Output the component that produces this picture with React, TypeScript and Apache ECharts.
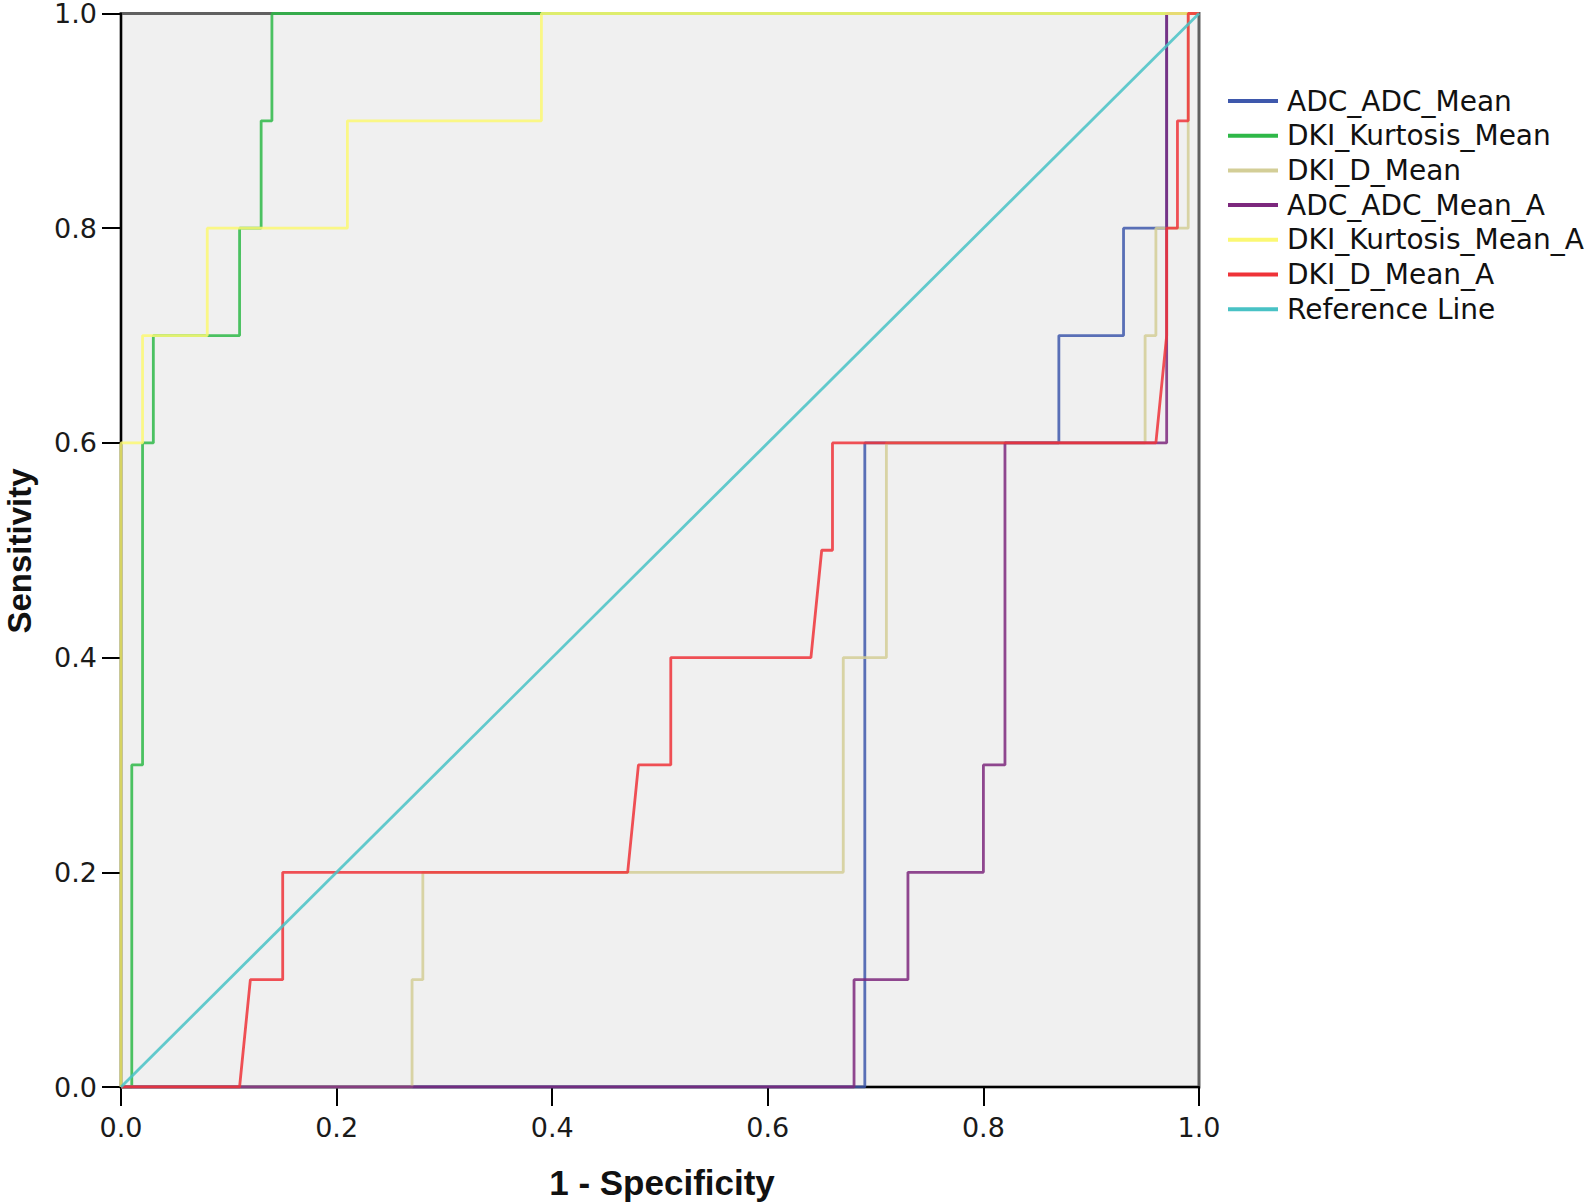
import React, { useEffect, useRef } from "react";
import * as echarts from "echarts";

const seriesNames = [
  "ADC_ADC_Mean",
  "DKI_Kurtosis_Mean",
  "DKI_D_Mean",
  "ADC_ADC_Mean_A",
  "DKI_Kurtosis_Mean_A",
  "DKI_D_Mean_A",
  "Reference Line",
];

const adcMean = [[0, 0], [0.69, 0], [0.69, 0.6], [0.87, 0.6], [0.87, 0.7], [0.93, 0.7], [0.93, 0.8], [0.97, 0.8], [0.97, 1], [1, 1]];
const kurtosisMean = [[0, 0], [0.01, 0], [0.01, 0.3], [0.02, 0.3], [0.02, 0.6], [0.03, 0.6], [0.03, 0.7], [0.11, 0.7], [0.11, 0.8], [0.13, 0.8], [0.13, 0.9], [0.14, 0.9], [0.14, 1], [1, 1]];
const dMean = [[0, 0], [0.27, 0], [0.27, 0.1], [0.28, 0.1], [0.28, 0.2], [0.67, 0.2], [0.67, 0.4], [0.71, 0.4], [0.71, 0.6], [0.95, 0.6], [0.95, 0.7], [0.96, 0.7], [0.96, 0.8], [0.99, 0.8], [0.99, 1], [1, 1]];
const adcMeanA = [[0, 0], [0.68, 0], [0.68, 0.1], [0.73, 0.1], [0.73, 0.2], [0.8, 0.2], [0.8, 0.3], [0.82, 0.3], [0.82, 0.6], [0.97, 0.6], [0.97, 1], [1, 1]];
const kurtosisMeanA = [[0, 0], [0, 0.6], [0.02, 0.6], [0.02, 0.7], [0.08, 0.7], [0.08, 0.8], [0.21, 0.8], [0.21, 0.9], [0.39, 0.9], [0.39, 1], [1, 1]];
const dMeanA = [[0, 0], [0.11, 0], [0.12, 0.1], [0.15, 0.1], [0.15, 0.2], [0.47, 0.2], [0.48, 0.3], [0.51, 0.3], [0.51, 0.4], [0.64, 0.4], [0.65, 0.5], [0.66, 0.5], [0.66, 0.6], [0.96, 0.6], [0.97, 0.7], [0.97, 0.8], [0.98, 0.8], [0.98, 0.9], [0.99, 0.9], [0.99, 1], [1, 1]];
const referenceLine = [[0, 0], [1, 1]];

const seriesData = [adcMean, kurtosisMean, dMean, adcMeanA, kurtosisMeanA, dMeanA, referenceLine];
const seriesColors = ["#3E58AC", "#2EB848", "#D3CE97", "#7C287D", "#FBF873", "#EF3338", "#48C2C5"];

const xAxisTitle = "1 - Specificity";
const yAxisTitle = "Sensitivity";

export default function App() {
  const ref = useRef<HTMLDivElement>(null);
  useEffect(() => {
    if (!ref.current) return;
    const chart = echarts.init(ref.current, undefined, { renderer: "svg" });
    const labelFont = "DejaVu Sans";
    chart.setOption({
      animation: false,
      backgroundColor: "#ffffff",
      grid: {
        left: 121,
        top: 11,
        width: 1078,
        height: 1076,
        show: true,
        backgroundColor: "#f0f0f0",
        borderColor: "#606060",
        borderWidth: 3,
      },
      legend: {
        orient: "vertical",
        left: 1223,
        top: 81,
        icon: "rect",
        itemWidth: 50,
        itemHeight: 4,
        itemGap: 4.7,
        selectedMode: false,
        data: seriesNames,
        textStyle: {
          fontFamily: labelFont,
          fontSize: 28,
          lineHeight: 30,
          color: "#111111",
          padding: [0, 0, 0, 4],
        },
      },
      xAxis: {
        type: "value",
        min: 0,
        max: 1,
        interval: 0.2,
        splitLine: { show: false },
        axisLine: { show: true, onZero: false, lineStyle: { color: "#000000", width: 2 } },
        axisTick: { show: true, inside: false, length: 19, lineStyle: { color: "#000000", width: 2 } },
        axisLabel: {
          margin: 27,
          fontFamily: labelFont,
          fontSize: 27,
          color: "#1a1a1a",
          formatter: (v: number) => v.toFixed(1),
        },
      },
      yAxis: {
        type: "value",
        min: 0,
        max: 1,
        interval: 0.2,
        splitLine: { show: false },
        axisLine: { show: true, onZero: false, lineStyle: { color: "#000000", width: 2 } },
        axisTick: { show: true, inside: false, length: 19, lineStyle: { color: "#000000", width: 2 } },
        axisLabel: {
          margin: 24,
          fontFamily: labelFont,
          fontSize: 27,
          lineHeight: 22,
          color: "#1a1a1a",
          formatter: (v: number) => v.toFixed(1),
        },
      },
      graphic: [
        {
          type: "text",
          x: 662,
          y: 1182,
          style: {
            text: xAxisTitle,
            fontFamily: "Liberation Sans",
            fontWeight: "bold",
            fontSize: 35,
            fill: "#111111",
            textAlign: "center",
            textVerticalAlign: "middle",
          },
        },
        {
          type: "text",
          x: 19,
          y: 551,
          rotation: Math.PI / 2,
          style: {
            text: yAxisTitle,
            fontFamily: "Liberation Sans",
            fontWeight: "bold",
            fontSize: 33,
            fill: "#111111",
            textAlign: "center",
            textVerticalAlign: "middle",
          },
        },
      ],
      series: seriesNames.map((name, i) => ({
        name,
        type: "line",
        data: seriesData[i],
        symbol: "none",
        showSymbol: false,
        color: seriesColors[i],
        lineStyle: { color: seriesColors[i], width: 2.8, opacity: 0.85 },
        itemStyle: { color: seriesColors[i] },
        z: 3,
      })),
    });
    return () => chart.dispose();
  }, []);
  return (
    <div
      ref={ref}
      style={{ position: "fixed", left: 0, top: 0, width: 1594, height: 1202 }}
    />
  );
}
